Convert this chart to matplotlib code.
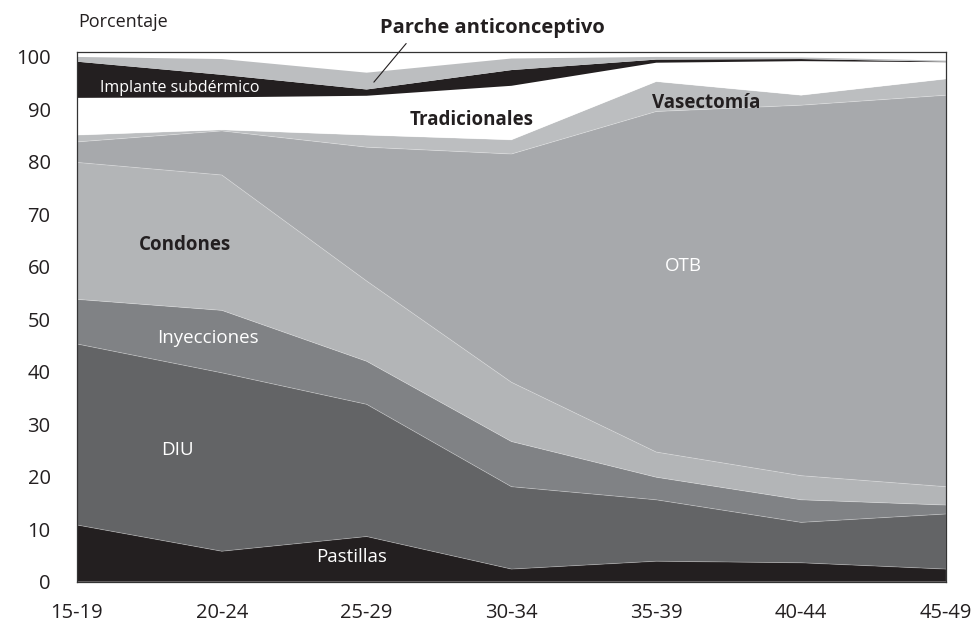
import numpy as np
import matplotlib.pyplot as plt

plt.rcParams['font.family'] = ['Open Sans', 'DejaVu Sans']

grupos = ['15-19', '20-24', '25-29', '30-34', '35-39', '40-44', '45-49']

# porcentaje de cada metodo por grupo de edad
pastillas = [10.8, 5.8, 8.6, 2.4, 3.9, 3.6, 2.4]
diu = [34.5, 34.0, 25.2, 15.7, 11.7, 7.7, 10.5]
inyecciones = [8.5, 11.9, 8.2, 8.6, 4.3, 4.3, 1.7]
condones = [26.1, 25.8, 15.3, 11.3, 4.8, 4.6, 3.5]
otb = [3.9, 8.4, 25.5, 43.5, 64.9, 70.6, 74.6]
vasectomia = [1.3, 0.2, 2.3, 2.7, 5.7, 1.9, 3.1]
tradicionales = [7.1, 6.2, 7.5, 10.3, 3.6, 6.5, 3.2]
implante = [6.9, 4.3, 1.2, 3.0, 0.6, 0.4, 0.1]
parche = [0.9, 3.0, 3.2, 2.2, 0.5, 0.3, 0.2]

capas = [pastillas, diu, inyecciones, condones, otb, vasectomia,
         tradicionales, implante, parche]
colores = ['#231f20', '#636466', '#808285', '#b3b5b7', '#a7a9ac', '#bcbec0',
           '#ffffff', '#231f20', '#bcbec0']

x = np.arange(len(grupos))

fig = plt.figure(figsize=(9.72, 6.25), dpi=100)
ax = fig.add_axes([0.0792, 0.0693, 0.894, 0.848])

ax.stackplot(x, *capas, colors=colores, linewidth=0)

# lineas claras entre capas
acum = np.cumsum(np.array(capas), axis=0)
for fila in acum[:6]:
    ax.plot(x, fila, color='white', lw=0.6, alpha=0.3)

ax.set_xlim(0, 6)
ax.set_ylim(0, 101)
ax.set_xticks(x)
ax.set_xticklabels(grupos)
ax.set_yticks(range(0, 101, 10))
ax.tick_params(length=0, labelsize=14.5, colors='#231f20')
ax.tick_params(axis='y', pad=19)
ax.tick_params(axis='x', pad=15)
for s in ax.spines.values():
    s.set_color('#333333')
    s.set_linewidth(0.9)

fig.text(0.080, 0.965, 'Porcentaje', fontsize=13, color='#231f20',
         ha='left', va='center')

def etiqueta(texto, xx, yy, color='white', bold=False, size=13.5):
    ax.text(xx, yy, texto, color=color, fontsize=size, ha='center', va='center',
            fontweight='bold' if bold else 'normal')

etiqueta('Implante subdérmico', 0.711, 94.0, size=11.5)
etiqueta('Tradicionales', 2.727, 87.9, color='#231f20', bold=True)
etiqueta('Vasectomía', 4.343, 91.3, color='#231f20', bold=True)
etiqueta('Condones', 0.746, 64.2, color='#231f20', bold=True)
etiqueta('OTB', 4.184, 60.2)
etiqueta('Inyecciones', 0.905, 46.5)
etiqueta('DIU', 0.697, 25.1)
etiqueta('Pastillas', 1.899, 4.7)

ax.annotate('Parche anticonceptivo', xy=(2.05, 95.2), xytext=(2.866, 105.6),
            fontsize=14.5, fontweight='bold', color='#231f20',
            ha='center', va='center', annotation_clip=False,
            arrowprops=dict(arrowstyle='-', color='#231f20', lw=0.8,
                            relpos=(0.14, 0.0), shrinkA=3, shrinkB=0))

fig.savefig('out.png', dpi=100)
